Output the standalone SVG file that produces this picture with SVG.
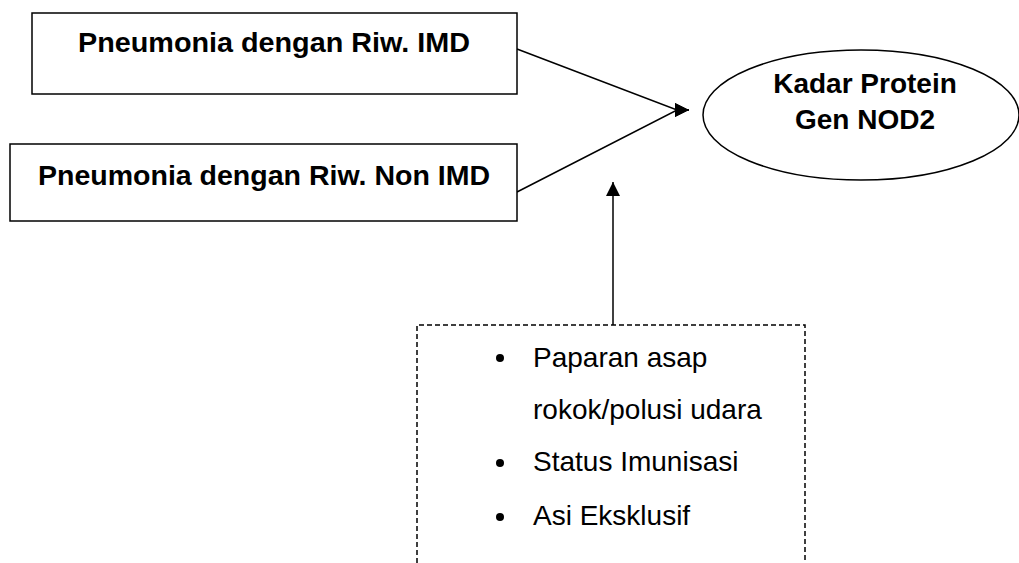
<svg xmlns="http://www.w3.org/2000/svg" width="1019" height="563" viewBox="0 0 1019 563">
<style>
.box{fill:#fff;stroke:#000;stroke-width:1.5}
.bt{font-family:"Liberation Sans",Arial,sans-serif;font-weight:bold;font-size:28px;fill:#000}
.lt{font-family:"Liberation Sans",Arial,sans-serif;font-size:28px;fill:#000}
.con{stroke:#000;stroke-width:1.5;fill:none}
</style>
<defs>
<marker id="ah" viewBox="0 0 14 14" refX="14" refY="7" markerWidth="14" markerHeight="14" markerUnits="userSpaceOnUse" orient="auto">
<path d="M0,0 L14,7 L0,14 Z" fill="#000"/>
</marker>
</defs>
<rect width="1019" height="563" fill="#fff"/>
<g id="connectors">
<path class="con" d="M517,49 L677,110 L689,110" marker-end="url(#ah)"/>
<path class="con" d="M517,192 L677,110 L689,110" marker-end="url(#ah)"/>
<line class="con" x1="613" y1="325" x2="613" y2="182" marker-end="url(#ah)"/>
</g>
<g id="n1">
<rect class="box" x="32" y="13" width="485" height="81"/>
<text class="bt" x="78" y="52" textLength="392" lengthAdjust="spacingAndGlyphs">Pneumonia dengan Riw. IMD</text>
</g>
<g id="n2">
<rect class="box" x="10" y="144" width="507" height="77"/>
<text class="bt" x="38" y="185" textLength="452" lengthAdjust="spacingAndGlyphs">Pneumonia dengan Riw. Non IMD</text>
</g>
<g id="n3">
<ellipse class="box" cx="861" cy="115" rx="158" ry="65"/>
<text class="bt" x="865" y="93" text-anchor="middle">Kadar Protein</text>
<text class="bt" x="865" y="129" text-anchor="middle">Gen NOD2</text>
</g>
<g id="n4">
<path d="M417,563 V325 H805 V563" fill="none" stroke="#000" stroke-width="1.5" stroke-dasharray="5,3"/>
<circle cx="500" cy="358" r="4"/>
<circle cx="500" cy="463" r="4"/>
<circle cx="500" cy="517" r="4"/>
<text class="lt" x="533" y="367">Paparan asap</text>
<text class="lt" x="533" y="419">rokok/polusi udara</text>
<text class="lt" x="533" y="471">Status Imunisasi</text>
<text class="lt" x="533" y="525">Asi Eksklusif</text>
</g>
</svg>
